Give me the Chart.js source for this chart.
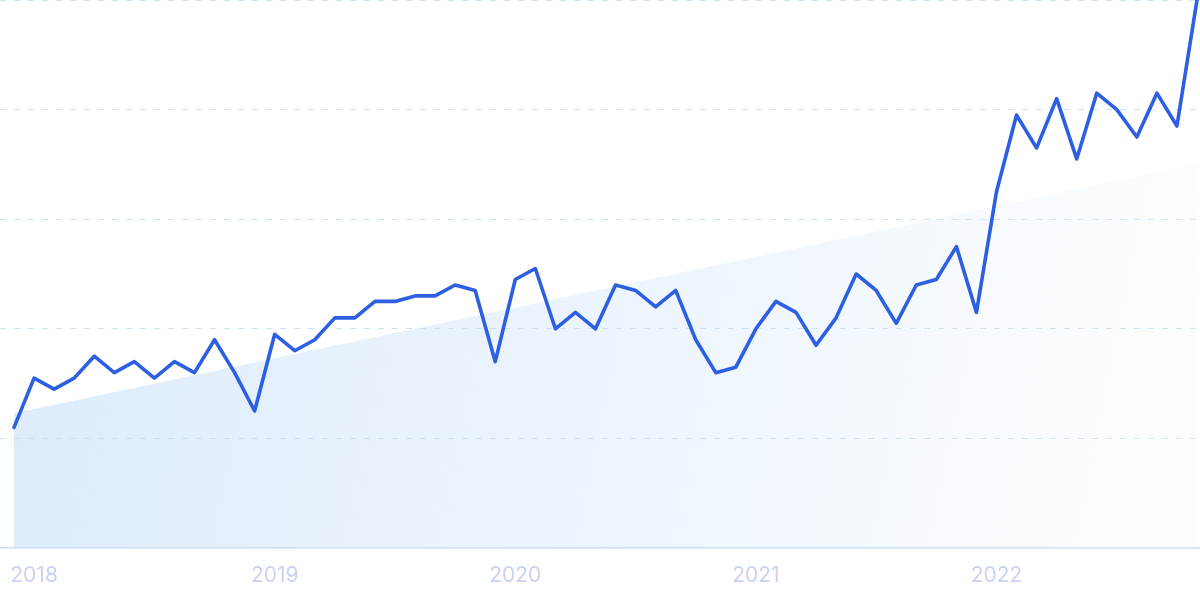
<!DOCTYPE html>
<html>
<head>
<meta charset="utf-8">
<script src="https://cdn.jsdelivr.net/npm/chart.js@4.4.1/dist/chart.umd.min.js"></script>
<style>
  html, body { margin: 0; padding: 0; background: #fff; }
  #wrap { width: 1200px; height: 600px; position: relative; }
</style>
</head>
<body>
<div id="wrap"><canvas id="trendChart"></canvas></div>
<script>
// monthly points, Dec 2017 .. Nov 2022
const months = [
    '2017-12',
    '2018-01', '2018-02', '2018-03', '2018-04', '2018-05', '2018-06', '2018-07', '2018-08', '2018-09', '2018-10', '2018-11', '2018-12',
    '2019-01', '2019-02', '2019-03', '2019-04', '2019-05', '2019-06', '2019-07', '2019-08', '2019-09', '2019-10', '2019-11', '2019-12',
    '2020-01', '2020-02', '2020-03', '2020-04', '2020-05', '2020-06', '2020-07', '2020-08', '2020-09', '2020-10', '2020-11', '2020-12',
    '2021-01', '2021-02', '2021-03', '2021-04', '2021-05', '2021-06', '2021-07', '2021-08', '2021-09', '2021-10', '2021-11', '2021-12',
    '2022-01', '2022-02', '2022-03', '2022-04', '2022-05', '2022-06', '2022-07', '2022-08', '2022-09', '2022-10', '2022-11'
];

const searchValues = [
    22,
    31, 29, 31, 35, 32, 34, 31, 34, 32, 38, 32, 25,
    39, 36, 38, 42, 42, 45, 45, 46, 46, 48, 47, 34,
    49, 51, 40, 43, 40, 48, 47, 44, 47, 38, 32, 33,
    40, 45, 43, 37, 42, 50, 47, 41, 48, 49, 55, 43,
    65, 79, 73, 82, 71, 83, 80, 75, 83, 77, 100
];

const yearTicks = [1, 13, 25, 37, 49];
const yearLabels = ['2018', '2019', '2020', '2021', '2022'];

// trend line: value at first and last month
const trendValues = [24.6, 70.1];

const ctx = document.getElementById('trendChart').getContext('2d');

function trendFill(context) {
    const area = context.chart.chartArea;
    if (!area) return 'rgba(200, 225, 248, 0.5)';
    const g = context.chart.ctx.createLinearGradient(area.left, area.top + 300, area.right, area.bottom);
    g.addColorStop(0, 'rgba(196, 223, 247, 0.6)');
    g.addColorStop(0.6, 'rgba(210, 230, 250, 0.35)');
    g.addColorStop(1, 'rgba(235, 244, 253, 0.12)');
    return g;
}

new Chart(ctx, {
    type: 'line',
    data: {
        datasets: [{
            label: 'interest',
            data: searchValues.map((v, i) => ({ x: i, y: v })),
            borderColor: '#2d5fe3',
            borderWidth: 3.6,
            borderJoinStyle: 'round',
            borderCapStyle: 'round',
            pointRadius: 0,
            tension: 0,
            fill: false,
            clip: false
        }, {
            label: 'trend',
            data: [
                { x: 0, y: trendValues[0] },
                { x: months.length - 1, y: trendValues[1] }
            ],
            borderWidth: 0,
            borderColor: 'rgba(0,0,0,0)',
            backgroundColor: trendFill,
            pointRadius: 0,
            fill: 'origin'
        }]
    },
    options: {
        responsive: true,
        maintainAspectRatio: false,
        animation: false,
        layout: { padding: 0 },
        plugins: {
            legend: { display: false },
            tooltip: { enabled: false }
        },
        scales: {
            x: {
                type: 'linear',
                min: -0.7,
                max: 59.15,
                afterBuildTicks: (axis) => {
                    axis.ticks = yearTicks.map(v => ({ value: v }));
                },
                afterFit: (axis) => {
                    axis.height = 52;
                    axis.paddingLeft = 0;
                    axis.paddingRight = 0;
                },
                grid: { display: false, drawTicks: false },
                border: { display: true, color: '#c5e0f8', width: 1.5 },
                ticks: {
                    autoSkip: false,
                    maxRotation: 0,
                    padding: 15,
                    color: '#c9d3f1',
                    font: { family: 'Inter', size: 21 },
                    callback: (v) => {
                        const i = yearTicks.indexOf(v);
                        return i >= 0 ? yearLabels[i] : '';
                    }
                }
            },
            y: {
                min: 0,
                max: 100,
                afterFit: (axis) => { axis.width = 0; },
                ticks: { display: false, stepSize: 20 },
                border: { display: false, dash: [6, 8] },
                grid: {
                    drawTicks: false,
                    lineWidth: 1,
                    color: (c) => c.tick && c.tick.value === 0 ? 'rgba(0,0,0,0)' : '#c9e1f7'
                }
            }
        }
    }
});
</script>
</body>
</html>
